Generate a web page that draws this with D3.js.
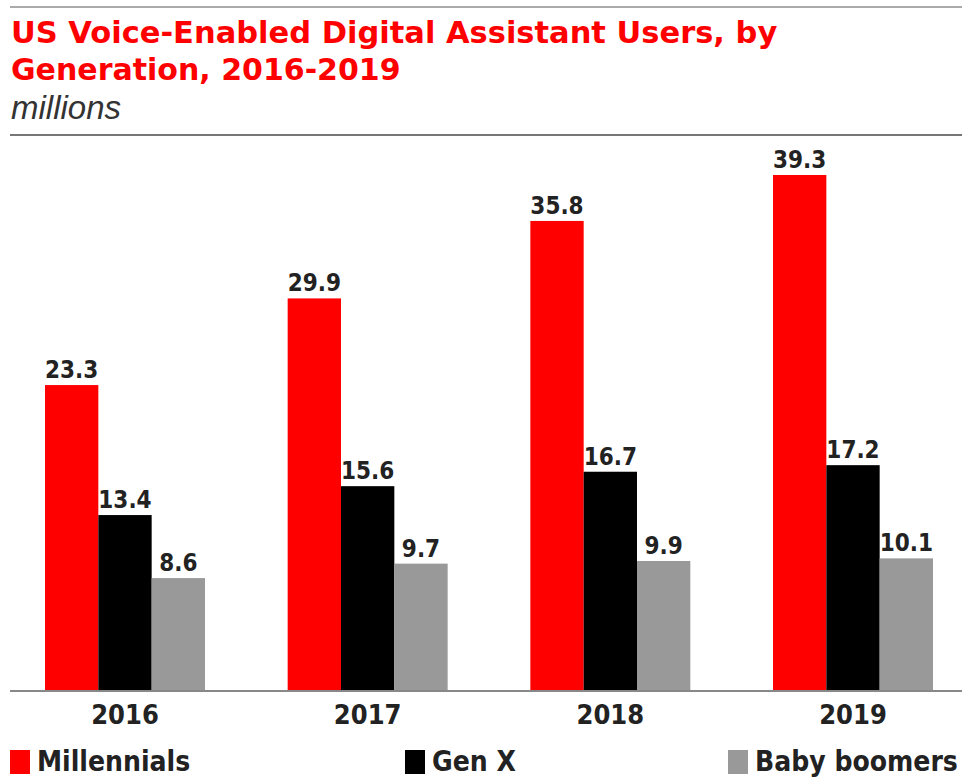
<!DOCTYPE html>
<html>
<head>
<meta charset="utf-8">
<script src="https://cdn.jsdelivr.net/npm/d3@7"></script>
<style>
  body { margin: 0; background: #fff; }
  svg { display: block; }
  .cond { font-family: "Liberation Sans Narrow", "DejaVu Sans Condensed", "Liberation Sans", sans-serif; font-weight: bold; }
</style>
</head>
<body>
<svg id="chart"></svg>
<script>
// data
var years = ["2016", "2017", "2018", "2019"];
var series = ["Millennials", "Gen X", "Baby boomers"];
var colors = ["#ff0000", "#000000", "#999999"];
var millennials = [23.3, 29.9, 35.8, 39.3];
var genX = [13.4, 15.6, 16.7, 17.2];
var boomers = [8.6, 9.7, 9.9, 10.1];

var values = [millennials, genX, boomers];

var W = 970, H = 778;
var svg = d3.select("#chart").attr("width", W).attr("height", H);

// header
svg.append("line").attr("x1", 10).attr("x2", 962).attr("y1", 7).attr("y2", 7)
  .attr("stroke", "#aaa").attr("stroke-width", 2);

svg.append("text").attr("x", 11).attr("y", 43)
  .style("font-family", "DejaVu Sans, sans-serif").style("font-weight", "bold")
  .style("font-size", "30.5px").attr("fill", "#ff0000")
  .text("US Voice-Enabled Digital Assistant Users, by");
svg.append("text").attr("x", 11).attr("y", 80)
  .style("font-family", "DejaVu Sans, sans-serif").style("font-weight", "bold")
  .style("font-size", "30px").attr("fill", "#ff0000")
  .text("Generation, 2016-2019");
svg.append("text").attr("x", 11).attr("y", 119)
  .style("font-family", "Liberation Sans, Arial, sans-serif").style("font-style", "italic")
  .style("font-size", "33px").attr("fill", "#333")
  .text("millions");

svg.append("line").attr("x1", 10).attr("x2", 962).attr("y1", 135).attr("y2", 135)
  .attr("stroke", "#777").attr("stroke-width", 2);

// scales
var baseY = 691;
var x0 = d3.scaleBand().domain(years).range([45, 933]).paddingInner(0.3407).paddingOuter(0);
var x1 = d3.scaleBand().domain(series).range([0, x0.bandwidth()]);
var y = d3.scaleLinear().domain([0, 40]).range([baseY, baseY - 40 * 13.13]);

var groups = svg.append("g").selectAll("g").data(years).enter().append("g")
  .attr("transform", function(d) { return "translate(" + x0(d) + ",0)"; });

groups.selectAll("rect")
  .data(function(d, i) { return series.map(function(s, j) { return {s: s, v: values[j][i], c: colors[j]}; }); })
  .enter().append("rect")
  .attr("x", function(d) { return x1(d.s); })
  .attr("width", x1.bandwidth())
  .attr("y", function(d) { return y(d.v); })
  .attr("height", function(d) { return baseY - y(d.v); })
  .attr("fill", function(d) { return d.c; });

groups.selectAll("text.val")
  .data(function(d, i) { return series.map(function(s, j) { return {s: s, v: values[j][i]}; }); })
  .enter().append("text").attr("class", "val cond")
  .attr("x", function(d) { return x1(d.s) + x1.bandwidth() / 2; })
  .attr("y", function(d) { return y(d.v) - 7; })
  .attr("text-anchor", "middle")
  .style("font-size", "24px").attr("fill", "#222")
  .text(function(d) { return d.v.toFixed(1); });

// x axis
var xAxis = svg.append("g").attr("transform", "translate(0," + baseY + ")")
  .call(d3.axisBottom(x0).tickSize(0).tickPadding(14));
xAxis.select(".domain").remove();
xAxis.append("line").attr("x1", 10).attr("x2", 962).attr("stroke", "#888").attr("stroke-width", 2);
xAxis.selectAll(".tick text").attr("class", "cond").style("font-size", "27px").attr("fill", "#222");

// legend
var legendX = [10, 405, 728];
var legend = svg.append("g").selectAll("g").data(series).enter().append("g")
  .attr("transform", function(d, i) { return "translate(" + legendX[i] + ",750)"; });
legend.append("rect").attr("width", 20).attr("height", 24)
  .attr("fill", function(d, i) { return colors[i]; });
legend.append("text").attr("class", "cond").attr("x", 27).attr("y", 21)
  .style("font-size", "28px").attr("fill", "#222")
  .text(function(d) { return d; });
</script>
</body>
</html>
